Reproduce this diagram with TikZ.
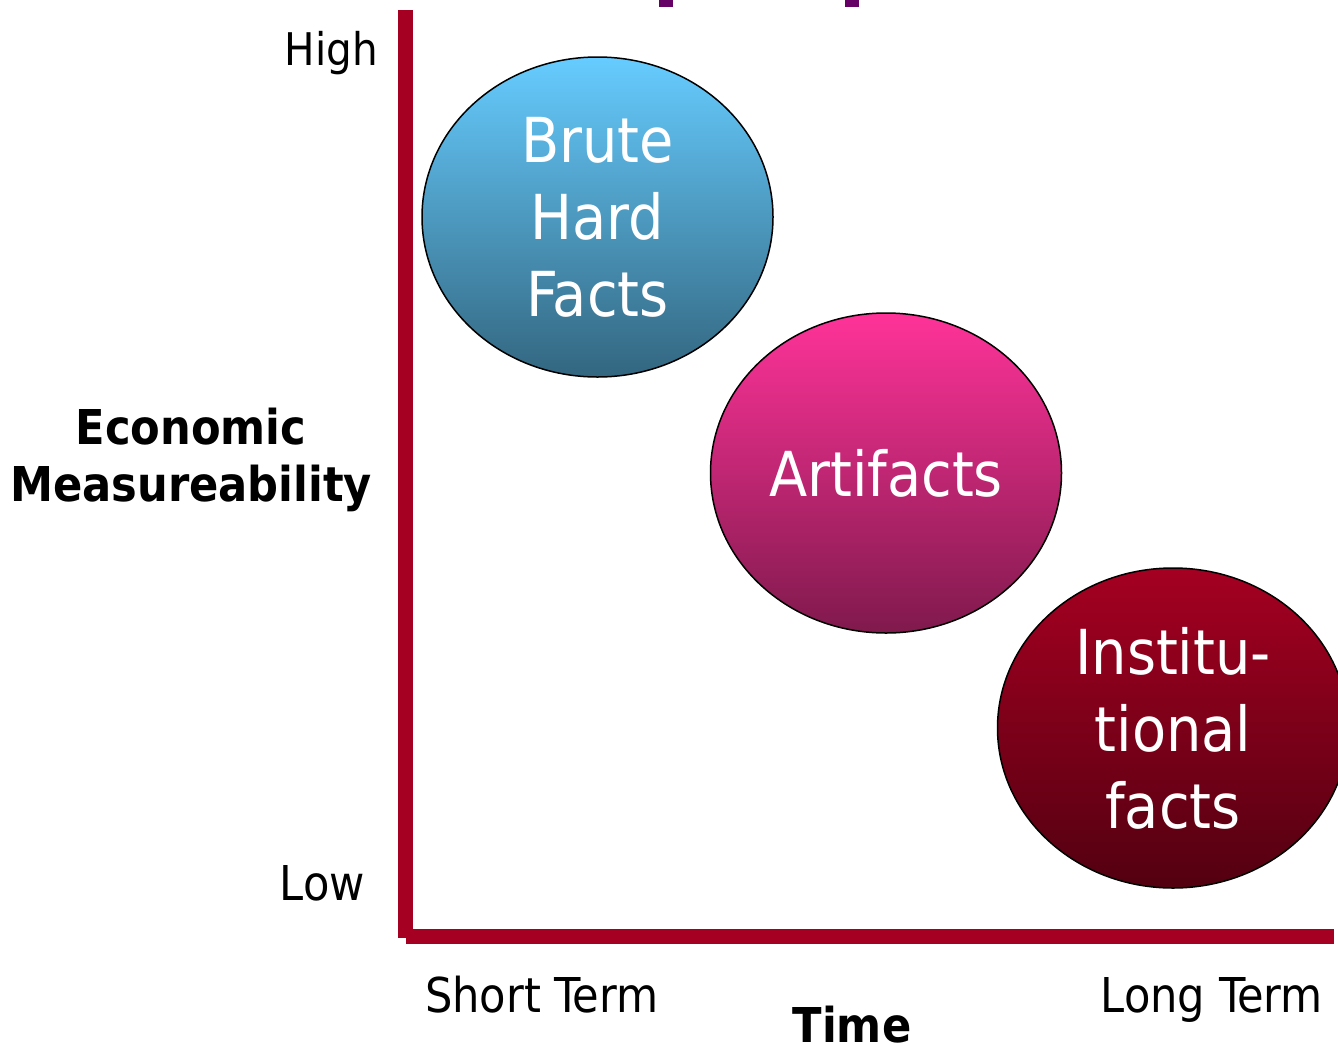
\documentclass[tikz,border=0pt]{standalone}
\usepackage{fontspec}
\setmainfont{DejaVu Sans Condensed}
\usetikzlibrary{shapes.geometric}
\definecolor{axisred}{HTML}{A50021}
\definecolor{markpurple}{HTML}{660066}
\definecolor{bluec}{HTML}{66CCFF}
\definecolor{pinkc}{HTML}{FF3399}
\definecolor{redc}{HTML}{A50021}
\begin{document}
\begin{tikzpicture}[x=1pt,y=-1pt,
  bubble/.style={ellipse, draw=black, line width=1.5pt, minimum width=351pt,
    minimum height=320pt, inner sep=0pt, text=white, align=center,
    font=\fontsize{62}{77}\selectfont},
  lbl/.style={inner sep=0pt, font=\fontsize{48}{56}\selectfont},
  blbl/.style={inner sep=0pt, font=\fontsize{48}{56}\selectfont\bfseries},
  axisbar/.style={fill=axisred},
  purplemark/.style={fill=markpurple}]
\clip (0,0) rectangle (1338,1045);
\fill[white] (0,0) rectangle (1338,1045);
% top marks
\fill[purplemark] (659,0) rectangle (673,7);
\fill[purplemark] (845,0) rectangle (859,7);
% axes
\fill[axisbar] (398,10) rectangle (413,938);
\fill[axisbar] (406,929) rectangle (1334,944);
% bubbles
\node[bubble, top color=bluec, bottom color=bluec!50!black] (brute) at (597.5,217) {Brute\\Hard\\Facts};
\node[bubble, top color=pinkc, bottom color=pinkc!50!black] (artifacts) at (886,473) {Artifacts};
\node[bubble, top color=redc, bottom color=redc!50!black] (inst) at (1173,728) {Institu-\\tional\\facts};
% labels
\node[lbl, font=\fontsize{45}{52}\selectfont, anchor=base east] (high) at (378,65) {High};
\node[lbl, anchor=base east] (low) at (365,900) {Low};
\node[lbl, anchor=base west] (short) at (425,1012) {Short Term};
\node[lbl, anchor=base east] (long) at (1323,1012) {Long Term};
\node[blbl, anchor=base] (time) at (852,1042) {Time};
\node[blbl, anchor=base] (econ1) at (191,444) {Economic};
\node[blbl, anchor=base] (econ2) at (191,501) {Measureability};
\end{tikzpicture}
\end{document}
